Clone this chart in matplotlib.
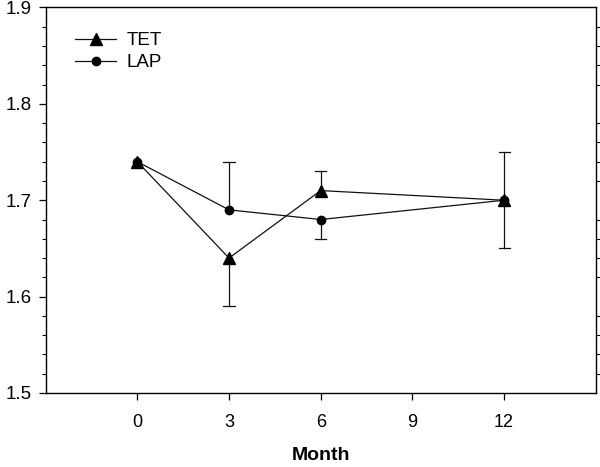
import matplotlib
matplotlib.use("Agg")
import matplotlib.pyplot as plt
from matplotlib.ticker import MultipleLocator

months = [0, 3, 6, 12]
tet = [1.74, 1.64, 1.71, 1.70]
tet_err_low = [0.0, 0.05, 0.0, 0.05]
tet_err_high = [0.0, 0.0, 0.02, 0.05]
lap = [1.74, 1.69, 1.68, 1.70]
lap_err_low = [0.0, 0.0, 0.02, 0.0]
lap_err_high = [0.0, 0.05, 0.0, 0.0]
xticks = [0, 3, 6, 9, 12]
yticks = [1.5, 1.6, 1.7, 1.8, 1.9]

plt.rcParams['font.family'] = ['Liberation Sans', 'DejaVu Sans']

fig = plt.figure(figsize=(6.0, 4.67), dpi=100)
ax = fig.add_axes([0.076, 0.1585, 0.917, 0.8255])

lc = '#111111'


def draw_err_one_sided(x, y, lo, hi):
    # draw vertical segments and caps only where error is non-zero
    for xi, yi, l, h in zip(x, y, lo, hi):
        if l > 0:
            ax.plot([xi, xi], [yi, yi - l], color=lc, lw=0.9, zorder=2)
            ax.plot([xi - 0.18, xi + 0.18], [yi - l, yi - l], color=lc,
                    lw=0.9, zorder=2)
        if h > 0:
            ax.plot([xi, xi], [yi, yi + h], color=lc, lw=0.9, zorder=2)
            ax.plot([xi - 0.18, xi + 0.18], [yi + h, yi + h], color=lc,
                    lw=0.9, zorder=2)


draw_err_one_sided(months, tet, tet_err_low, tet_err_high)
draw_err_one_sided(months, lap, lap_err_low, lap_err_high)

ax.plot(months, tet, color=lc, lw=0.9, marker='^', ms=8, mfc='black',
        mec='black', label='TET', zorder=4)
ax.plot(months, lap, color=lc, lw=0.9, marker='o', ms=6, mfc='black',
        mec='black', label='LAP', zorder=3)

ax.set_xlim(-3, 15)
ax.set_ylim(1.5, 1.9)
ax.set_xticks(xticks)
ax.set_xticklabels([str(t) for t in xticks], fontsize=13)
ax.set_yticks(yticks)
ax.set_yticklabels([f"{t:.1f}" for t in yticks], fontsize=13.5)
ax.yaxis.set_minor_locator(MultipleLocator(0.02))
ax.tick_params(axis='both', which='major', direction='out', length=5, width=0.9)
ax.tick_params(axis='y', which='minor', direction='out', length=3, width=0.8,
               right=True)
ax.tick_params(axis='x', which='major', pad=10)
ax.tick_params(axis='y', which='major', pad=5)

for s in ax.spines.values():
    s.set_linewidth(1.0)
    s.set_color('black')

ax.set_xlabel('Month', fontsize=14, fontweight='bold', labelpad=12)

leg = ax.legend(loc='upper left', bbox_to_anchor=(0.04, 0.955), frameon=False,
                fontsize=13.5, handlelength=2.2, handletextpad=0.55,
                labelspacing=0.25, borderaxespad=0.0)

fig.savefig('out.png', dpi=100)
